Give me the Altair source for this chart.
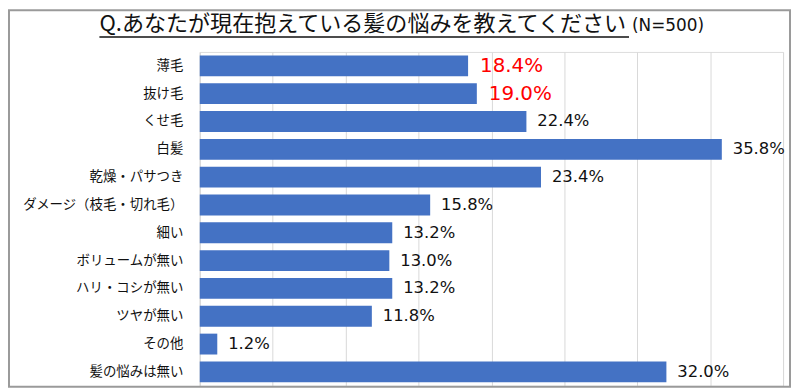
import altair as alt
import pandas as pd

categories = ["薄毛", "抜け毛", "くせ毛", "白髪", "乾燥・パサつき", "ダメージ（枝毛・切れ毛）",
              "細い", "ボリュームが無い", "ハリ・コシが無い", "ツヤが無い", "その他", "髪の悩みは無い"]
values = [18.4, 19.0, 22.4, 35.8, 23.4, 15.8, 13.2, 13.0, 13.2, 11.8, 1.2, 32.0]
highlight = [True, True, False, False, False, False, False, False, False, False, False, False]
x_ticks = [0, 5, 10, 15, 20, 25, 30, 35, 40]

title_main = "Q.あなたが現在抱えている髪の悩みを教えてください"
title_n = "(N=500)"

df = pd.DataFrame({"cat": categories, "val": values, "hl": highlight})
df["label"] = [f"{v:.1f}%" for v in values]

W, H = 587, 336
JP = "Noto Sans CJK JP"

x_scale = alt.Scale(domain=[0, 40], nice=False)
y_enc = alt.Y("cat:N", sort=categories,
              scale=alt.Scale(paddingInner=0.25, paddingOuter=0.125),
              axis=alt.Axis(title=None, ticks=False, domain=True, domainColor="#d9d9d9",
                            labelFont=JP, labelFontSize=13.5, labelColor="#111111",
                            labelPadding=17, labelLimit=300))

base = alt.Chart(df)

bars = base.mark_bar(color="#4472C4").encode(
    x=alt.X("val:Q", scale=x_scale,
            axis=alt.Axis(title=None, values=x_ticks, labels=False, ticks=False, domain=False,
                          grid=True, gridColor="#d9d9d9", gridWidth=1)),
    y=y_enc,
)

lbl_black = base.transform_filter("!datum.hl").mark_text(
    align="left", baseline="middle", dx=11, font="DejaVu Sans", fontSize=16.5, color="#111111"
).encode(x=alt.X("val:Q", scale=x_scale), y=alt.Y("cat:N", sort=categories), text="label:N")

lbl_red = base.transform_filter("datum.hl").mark_text(
    align="left", baseline="middle", dx=12, font="DejaVu Sans", fontSize=20, color="#ff0000"
).encode(x=alt.X("val:Q", scale=x_scale), y=alt.Y("cat:N", sort=categories), text="label:N")

one = alt.Chart(pd.DataFrame({"t": [title_main], "n": [title_n]}))

t_main = one.mark_text(align="left", baseline="alphabetic", font=JP, fontSize=22.2, color="#111111").encode(
    x=alt.value(-101), y=alt.value(-21), text="t:N")
t_n = one.mark_text(align="left", baseline="alphabetic", font="DejaVu Sans", fontSize=17, color="#111111").encode(
    x=alt.value(435), y=alt.value(-21), text="n:N")
underline = one.mark_rule(color="#111111", strokeWidth=1.5).encode(
    x=alt.value(-101), x2=alt.value(432), y=alt.value(-15))

frame = one.mark_rect(fill=None, stroke="#9a9a9a", strokeWidth=2).encode(
    x=alt.value(-192), x2=alt.value(W + 7), y=alt.value(-42), y2=alt.value(H + 1))

chart = alt.layer(bars, lbl_black, lbl_red, t_main, t_n, underline, frame).properties(
    width=W, height=H,
    autosize=alt.AutoSizeParams(type="none"),
    padding={"left": 193, "top": 43, "right": 9, "bottom": 3},
).configure_view(stroke=None).configure(background="white")

chart.save("out.html", embed_options={"renderer": "svg", "actions": False})
